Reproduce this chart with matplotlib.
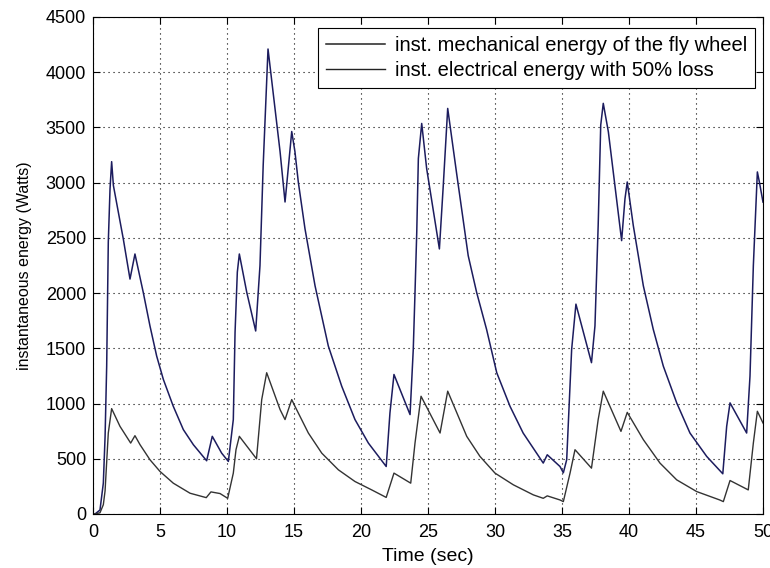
import matplotlib.pyplot as plt

# mechanical energy of the fly wheel
t_mech = [0.0, 0.15, 0.52, 0.77, 0.9, 1.02, 1.14, 1.27, 1.39, 1.52, 2.26, 2.76, 3.13,
          3.75, 4.25, 4.75, 5.25, 5.99, 6.74, 7.49, 8.48, 8.9, 9.6, 10.1, 10.47,
          10.6, 10.77, 10.92, 11.47, 12.14, 12.46, 12.7, 13.06, 13.96, 14.33,
          14.45, 14.83, 15.07, 15.32, 15.82, 16.57, 17.56, 18.56, 19.55, 20.55,
          21.88, 22.16, 22.46, 23.66, 23.9, 24.03, 24.16, 24.28, 24.53, 24.9,
          25.85, 26.14, 26.47, 27.14, 28.0, 28.63, 29.37, 30.13, 31.12, 32.1,
          33.6, 33.9, 34.85, 35.1, 35.35, 35.72, 36.04, 37.2, 37.46, 37.7,
          37.89, 38.08, 38.46, 39.45, 39.7, 39.87, 40.32, 41.07, 41.81, 42.56,
          43.56, 44.55, 45.8, 47.0, 47.29, 47.54, 48.78, 49.03, 49.28, 49.58,
          49.73, 50.0]
e_mech = [0, 0, 36, 280, 700, 1340, 2460, 2945, 3190, 2975, 2490, 2127, 2354,
          2006, 1703, 1430, 1218, 975, 764, 627, 482, 703, 551, 476, 855,
          1645, 2190, 2354, 2009, 1657, 2248, 3157, 4210, 3280, 2825,
          2975, 3463, 3280, 3006, 2582, 2066, 1521, 1157, 855, 642,
          430, 915, 1263, 900, 1490, 2005, 2550, 3218, 3536, 3127,
          2400, 2975, 3672, 3080, 2339, 2006, 1672, 1279, 975, 733,
          461, 536, 430, 373, 491, 1490, 1900, 1370, 1703, 2612,
          3521, 3718, 3460, 2475, 2854, 3006, 2612, 2066, 1672, 1339,
          1006, 733, 521, 364, 794, 1006, 733, 1248, 2248, 3097,
          3006, 2824]

# electrical energy with 50% loss
t_elec = [0.0, 0.15, 0.52, 0.77, 0.9, 1.14, 1.39, 2.01, 2.81, 3.13, 3.51, 4.25,
          5.0, 5.99, 7.24, 8.45, 8.8, 9.48, 10.05, 10.47, 10.67, 10.92, 12.2,
          12.59, 12.96, 13.96, 14.33, 14.83, 15.07, 16.07, 17.07, 18.31, 19.55,
          20.8, 21.88, 22.46, 23.71, 24.03, 24.48, 25.9, 26.47, 27.89, 28.88,
          30.0, 31.37, 32.86, 33.6, 33.9, 34.85, 35.1, 35.6, 35.97, 37.2, 37.7,
          38.08, 39.4, 39.87, 41.07, 42.31, 43.56, 45.05, 46.77, 47.04, 47.54,
          48.9, 49.28, 49.58, 50.0]
e_elec = [0, 0, 11, 84, 210, 733, 954, 794, 642, 709, 627, 491,
          385, 279, 188, 148, 200, 185, 142, 370, 582, 703, 500,
          1036, 1279, 945, 855, 1036, 975, 733, 551, 400, 294,
          218, 150, 370, 279, 642, 1066, 733, 1112, 703, 521,
          370, 264, 173, 142, 164, 127, 112, 370, 582, 415, 855,
          1112, 748, 920, 673, 461, 309, 203, 127, 112, 303,
          218, 642, 930, 824]

plt.rcParams['font.family'] = ['Liberation Sans', 'DejaVu Sans']

fig = plt.figure(figsize=(7.7, 5.68), dpi=100)
ax = fig.add_axes([0.1208, 0.0951, 0.8701, 0.8750])

ax.plot(t_mech, e_mech, color='#1c1c5e', linewidth=1.1,
        label='inst. mechanical energy of the fly wheel')
ax.plot(t_elec, e_elec, color='#333333', linewidth=1.0,
        label='inst. electrical energy with 50% loss')

ax.set_xlim(0, 50)
ax.set_ylim(0, 4500)
ax.set_xticks(range(0, 51, 5))
ax.set_yticks(range(0, 4501, 500))
ax.grid(True, linestyle=(0, (1, 3.5)), color='black', linewidth=0.8)
ax.tick_params(direction='in', top=True, right=True, length=5, labelsize=13)
ax.tick_params(axis='x', pad=7.5)
ax.tick_params(axis='y', pad=5)
for s in ax.spines.values():
    s.set_linewidth(0.8)

ax.set_xlabel('Time (sec)', fontsize=14, labelpad=5)
ax.set_ylabel('instantaneous energy (Watts)', fontsize=11.5, labelpad=10)

leg = ax.legend(loc='upper right', bbox_to_anchor=(1 - 8 / 670, 1 - 11 / 497),
                borderaxespad=0, fontsize=14.5, fancybox=False, framealpha=1,
                edgecolor='black', handlelength=2.9, handletextpad=0.5,
                borderpad=0.4, labelspacing=0.3)
leg.get_frame().set_linewidth(0.8)
for h in leg.legend_handles:
    h.set_color('#222222')

fig.savefig('out.png', dpi=100)
